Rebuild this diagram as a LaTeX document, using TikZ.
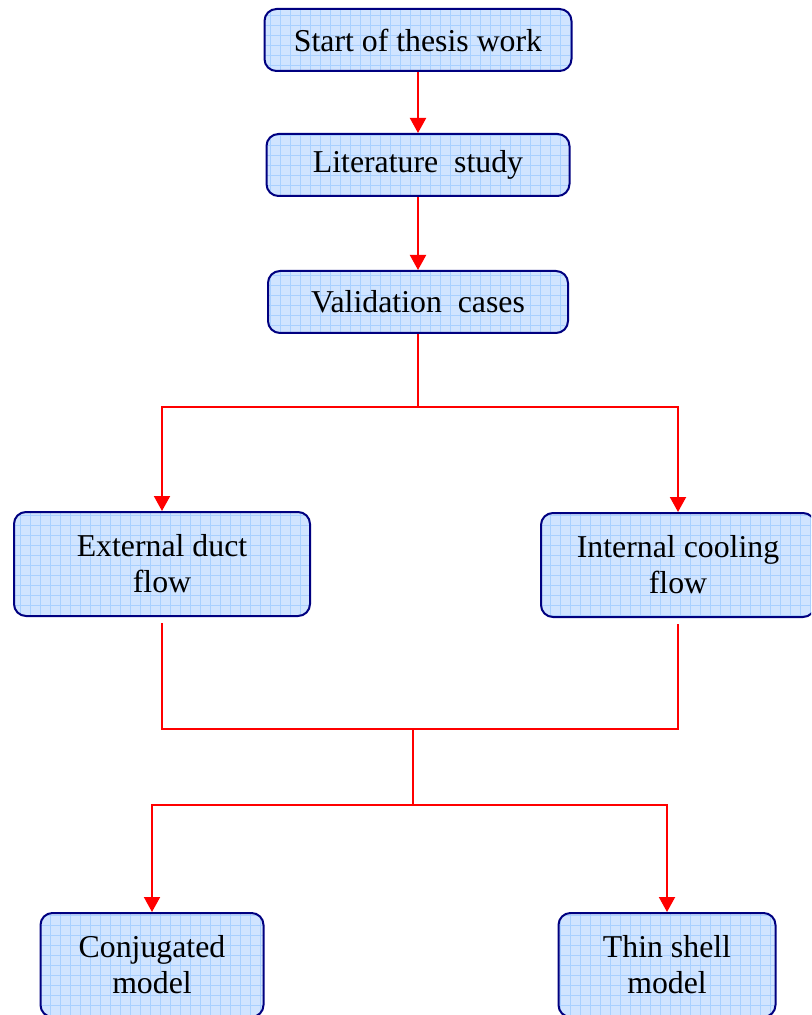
\documentclass[tikz,border=0pt]{standalone}
\usepackage{fontspec}
\setmainfont{Liberation Serif}
\usepackage{tikz}
\usetikzlibrary{arrows.meta}
\usetikzlibrary{patterns}
\definecolor{boxfill}{RGB}{208,228,255}
\definecolor{boxgrid}{RGB}{168,208,255}
\definecolor{boxline}{RGB}{0,0,128}
\pgfdeclarepatternformonly{cellgrid}{\pgfqpoint{-1pt}{-1pt}}{\pgfqpoint{6pt}{6pt}}{\pgfqpoint{5pt}{5pt}}{%
    \pgfsetlinewidth{0.45pt}
    \pgfpathmoveto{\pgfqpoint{0pt}{0pt}}\pgfpathlineto{\pgfqpoint{0pt}{5.1pt}}
    \pgfpathmoveto{\pgfqpoint{0pt}{0pt}}\pgfpathlineto{\pgfqpoint{5.1pt}{0pt}}
    \pgfusepath{stroke}}
\tikzset{% 
    stepbox/.style={draw=boxline, line width=1pt, rounded corners=6pt,
        preaction={fill=boxfill}, pattern=cellgrid, pattern color=boxgrid,
        align=center, inner sep=0pt, font=\fontsize{15.9}{18}\selectfont}
}

\begin{document}
\begin{tikzpicture}[x=0.5pt, y=-0.5pt,
            link/.style={red, line width=1pt},
            arr/.style={link, -{Triangle[width=8pt,length=7.5pt]}}
            ]
            \useasboundingbox (0,0) rectangle (811,1015);
            \clip (0,0) rectangle (811,1015);

            \node[stepbox, minimum width=153.5pt, minimum height=31pt] (start) at (418,40) {Start of thesis work};
            \node[stepbox, minimum width=151.5pt, minimum height=31pt] (lit) at (418,165) {Literature\ \ study};
            \node[stepbox, minimum width=150pt, minimum height=31pt] (val) at (418,302) {Validation\ \ cases};

            \node[stepbox, minimum width=148pt, minimum height=52pt] (ext) at (162,564) {External duct\\flow};
            \node[stepbox, minimum width=137pt, minimum height=52pt] (int) at (678,565) {Internal cooling\\flow};

            \node[stepbox, minimum width=111.5pt, minimum height=52pt] (conj) at (152,965) {Conjugated\\model};
            \node[stepbox, minimum width=108.5pt, minimum height=52pt] (thin) at (667,965) {Thin shell\\model};

            \coordinate (z1) at (418,407);
            \coordinate (z2) at (413,729);
            \coordinate (z3) at (413,805);

            \draw[arr] (start.south) -- (lit.north);
            \draw[arr] (lit.south) -- (val.north);
            \draw[link] (val.south) -- (z1);
            \draw[arr] (z1) -| (ext.north);
            \draw[arr] (z1) -| (int.north);

            \draw[link, shorten <=3pt] (ext.south) |- (z2);
            \draw[link, shorten <=3pt] (int.south) |- (z2);
            \draw[link] (z2) -- (z3);
            \draw[arr] (z3) -| (conj.north);
            \draw[arr] (z3) -| (thin.north);
        \end{tikzpicture}
\end{document}
